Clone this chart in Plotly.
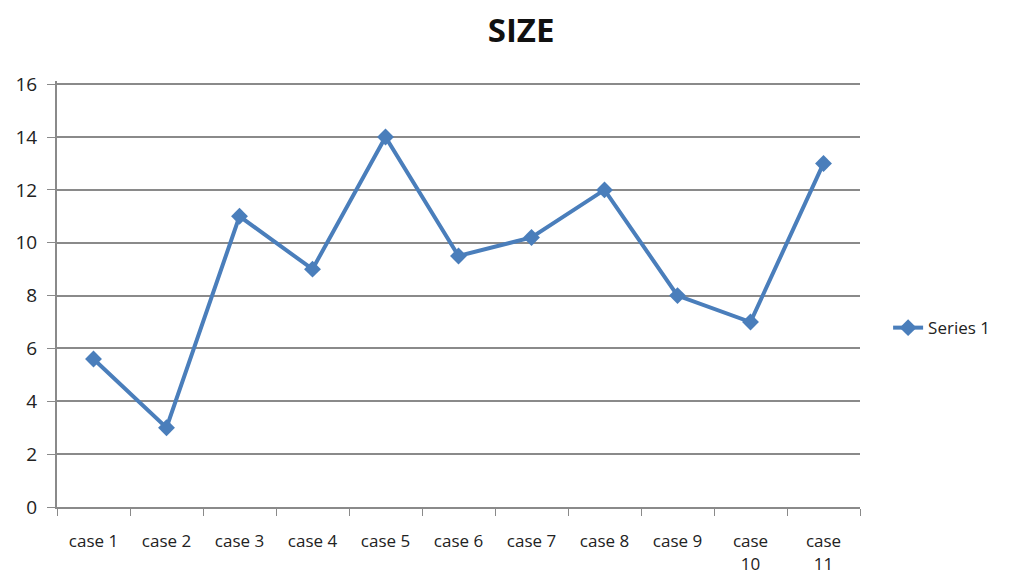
import plotly.graph_objects as go

categories = ["case 1", "case 2", "case 3", "case 4", "case 5", "case 6",
              "case 7", "case 8", "case 9", "case<br>10", "case<br>11"]
values = [5.6, 3.0, 11.0, 9.0, 14.0, 9.5, 10.2, 12.0, 8.0, 7.0, 13.0]
y_ticks = [0, 2, 4, 6, 8, 10, 12, 14, 16]

color = "#4A7EBB"
font_family = "Open Sans, Noto Sans, DejaVu Sans, sans-serif"

fig = go.Figure()
fig.add_trace(go.Scatter(
    x=categories, y=values, name="Series 1", mode="lines+markers",
    line=dict(color=color, width=4),
    marker=dict(symbol="diamond", size=13, color=color),
))

fig.update_layout(
    width=1036, height=578,
    margin=dict(l=57, r=176, t=81, b=71),
    paper_bgcolor="white", plot_bgcolor="white",
    font=dict(family=font_family, size=16, color="#222"),
    title=dict(text="<b>SIZE</b>", x=0.503, xanchor="center", y=0.947, yanchor="middle",
               font=dict(size=33, color="#111", family=font_family)),
    showlegend=True,
    legend=dict(x=1.035, y=0.42, xanchor="left", yanchor="middle",
                font=dict(size=17, color="#222"), bgcolor="rgba(0,0,0,0)"),
    xaxis=dict(
        type="category", tickson="boundaries", ticks="outside", ticklen=7,
        tickcolor="#8a8a8a", showline=True, linecolor="#8a8a8a", linewidth=2,
        showgrid=False, tickangle=0, tickfont=dict(size=17, color="#222"),
        ticklabelstandoff=18, automargin=False,
        range=[-0.5, 10.5],
    ),
    yaxis=dict(
        range=[0, 16.12], tickvals=y_ticks, ticks="outside", ticklen=8,
        tickcolor="#8a8a8a", showline=True, linecolor="#8a8a8a", linewidth=2,
        showgrid=True, gridcolor="#8a8a8a", gridwidth=1.5, zeroline=False,
        tickfont=dict(size=19, color="#222"), ticklabelstandoff=6,
        automargin=False,
    ),
)

fig.write_html("out.html")
